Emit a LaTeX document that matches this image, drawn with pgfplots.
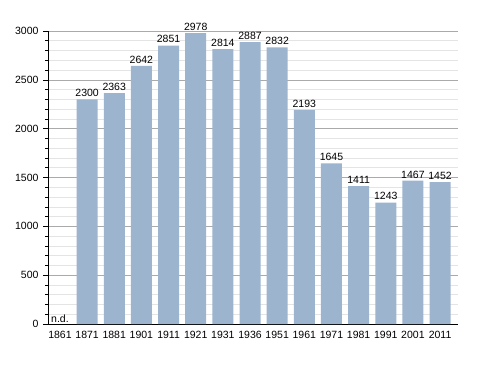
\documentclass[border=0pt]{standalone}
\usepackage{pgfplots}
\pgfplotsset{compat=1.18}
\usepackage{fontspec}
\setmainfont{Liberation Sans}
\definecolor{barc}{HTML}{9CB4CE}
\definecolor{majg}{HTML}{AAAAAA}
\definecolor{ming}{HTML}{E4E4E4}
\begin{document}
\begin{tikzpicture}[x=1pt,y=1pt]
\useasboundingbox (0,0) rectangle (488,373);
\begin{axis}[
  at={(48pt,49pt)}, anchor=south west,
  scale only axis, width=410pt, height=293pt,
  xmin=-0.44, xmax=14.66, ymin=0, ymax=3000,
  axis x line*=bottom, axis y line*=left,
  axis line style={black, line width=0.8pt},
  xtick={0,...,14},
  xticklabels={1861,1871,1881,1901,1911,1921,1931,1936,1951,1961,1971,1981,1991,2001,2011},
  major x tick style={draw=none},
  ytick={0,500,...,3000},
  minor y tick num=4,
  tick align=outside,
  major tick length=5pt, minor tick length=3pt,
  y tick style={black, line width=0.6pt},
  ymajorgrids, yminorgrids,
  major grid style={majg, line width=0.6pt},
  minor grid style={ming, line width=0.6pt},
  tick label style={font=\fontsize{10.5}{12}\selectfont},
  /pgf/number format/assume math mode=true,
  /pgf/number format/1000 sep={},
  xticklabel style={yshift=1pt},
  yticklabel style={xshift=-1pt},
  clip=false,
]
\addplot[ybar, bar width=21pt, fill=barc, draw=none,
  nodes near coords,
  nodes near coords style={font=\fontsize{10.5}{12}\selectfont, black, yshift=-1pt},
  /pgf/number format/1000 sep={}]
  coordinates {(1,2300) (2,2363) (3,2642) (4,2851) (5,2978) (6,2814) (7,2887) (8,2832) (9,2193) (10,1645) (11,1411) (12,1243) (13,1467) (14,1452)};
\addplot[only marks, mark=none, point meta=explicit symbolic,
  nodes near coords,
  nodes near coords style={font=\fontsize{10.5}{12}\selectfont, black, anchor=south, yshift=-2pt}]
  coordinates {(0,0) [n.d.]};
\end{axis}
\end{tikzpicture}
\end{document}
